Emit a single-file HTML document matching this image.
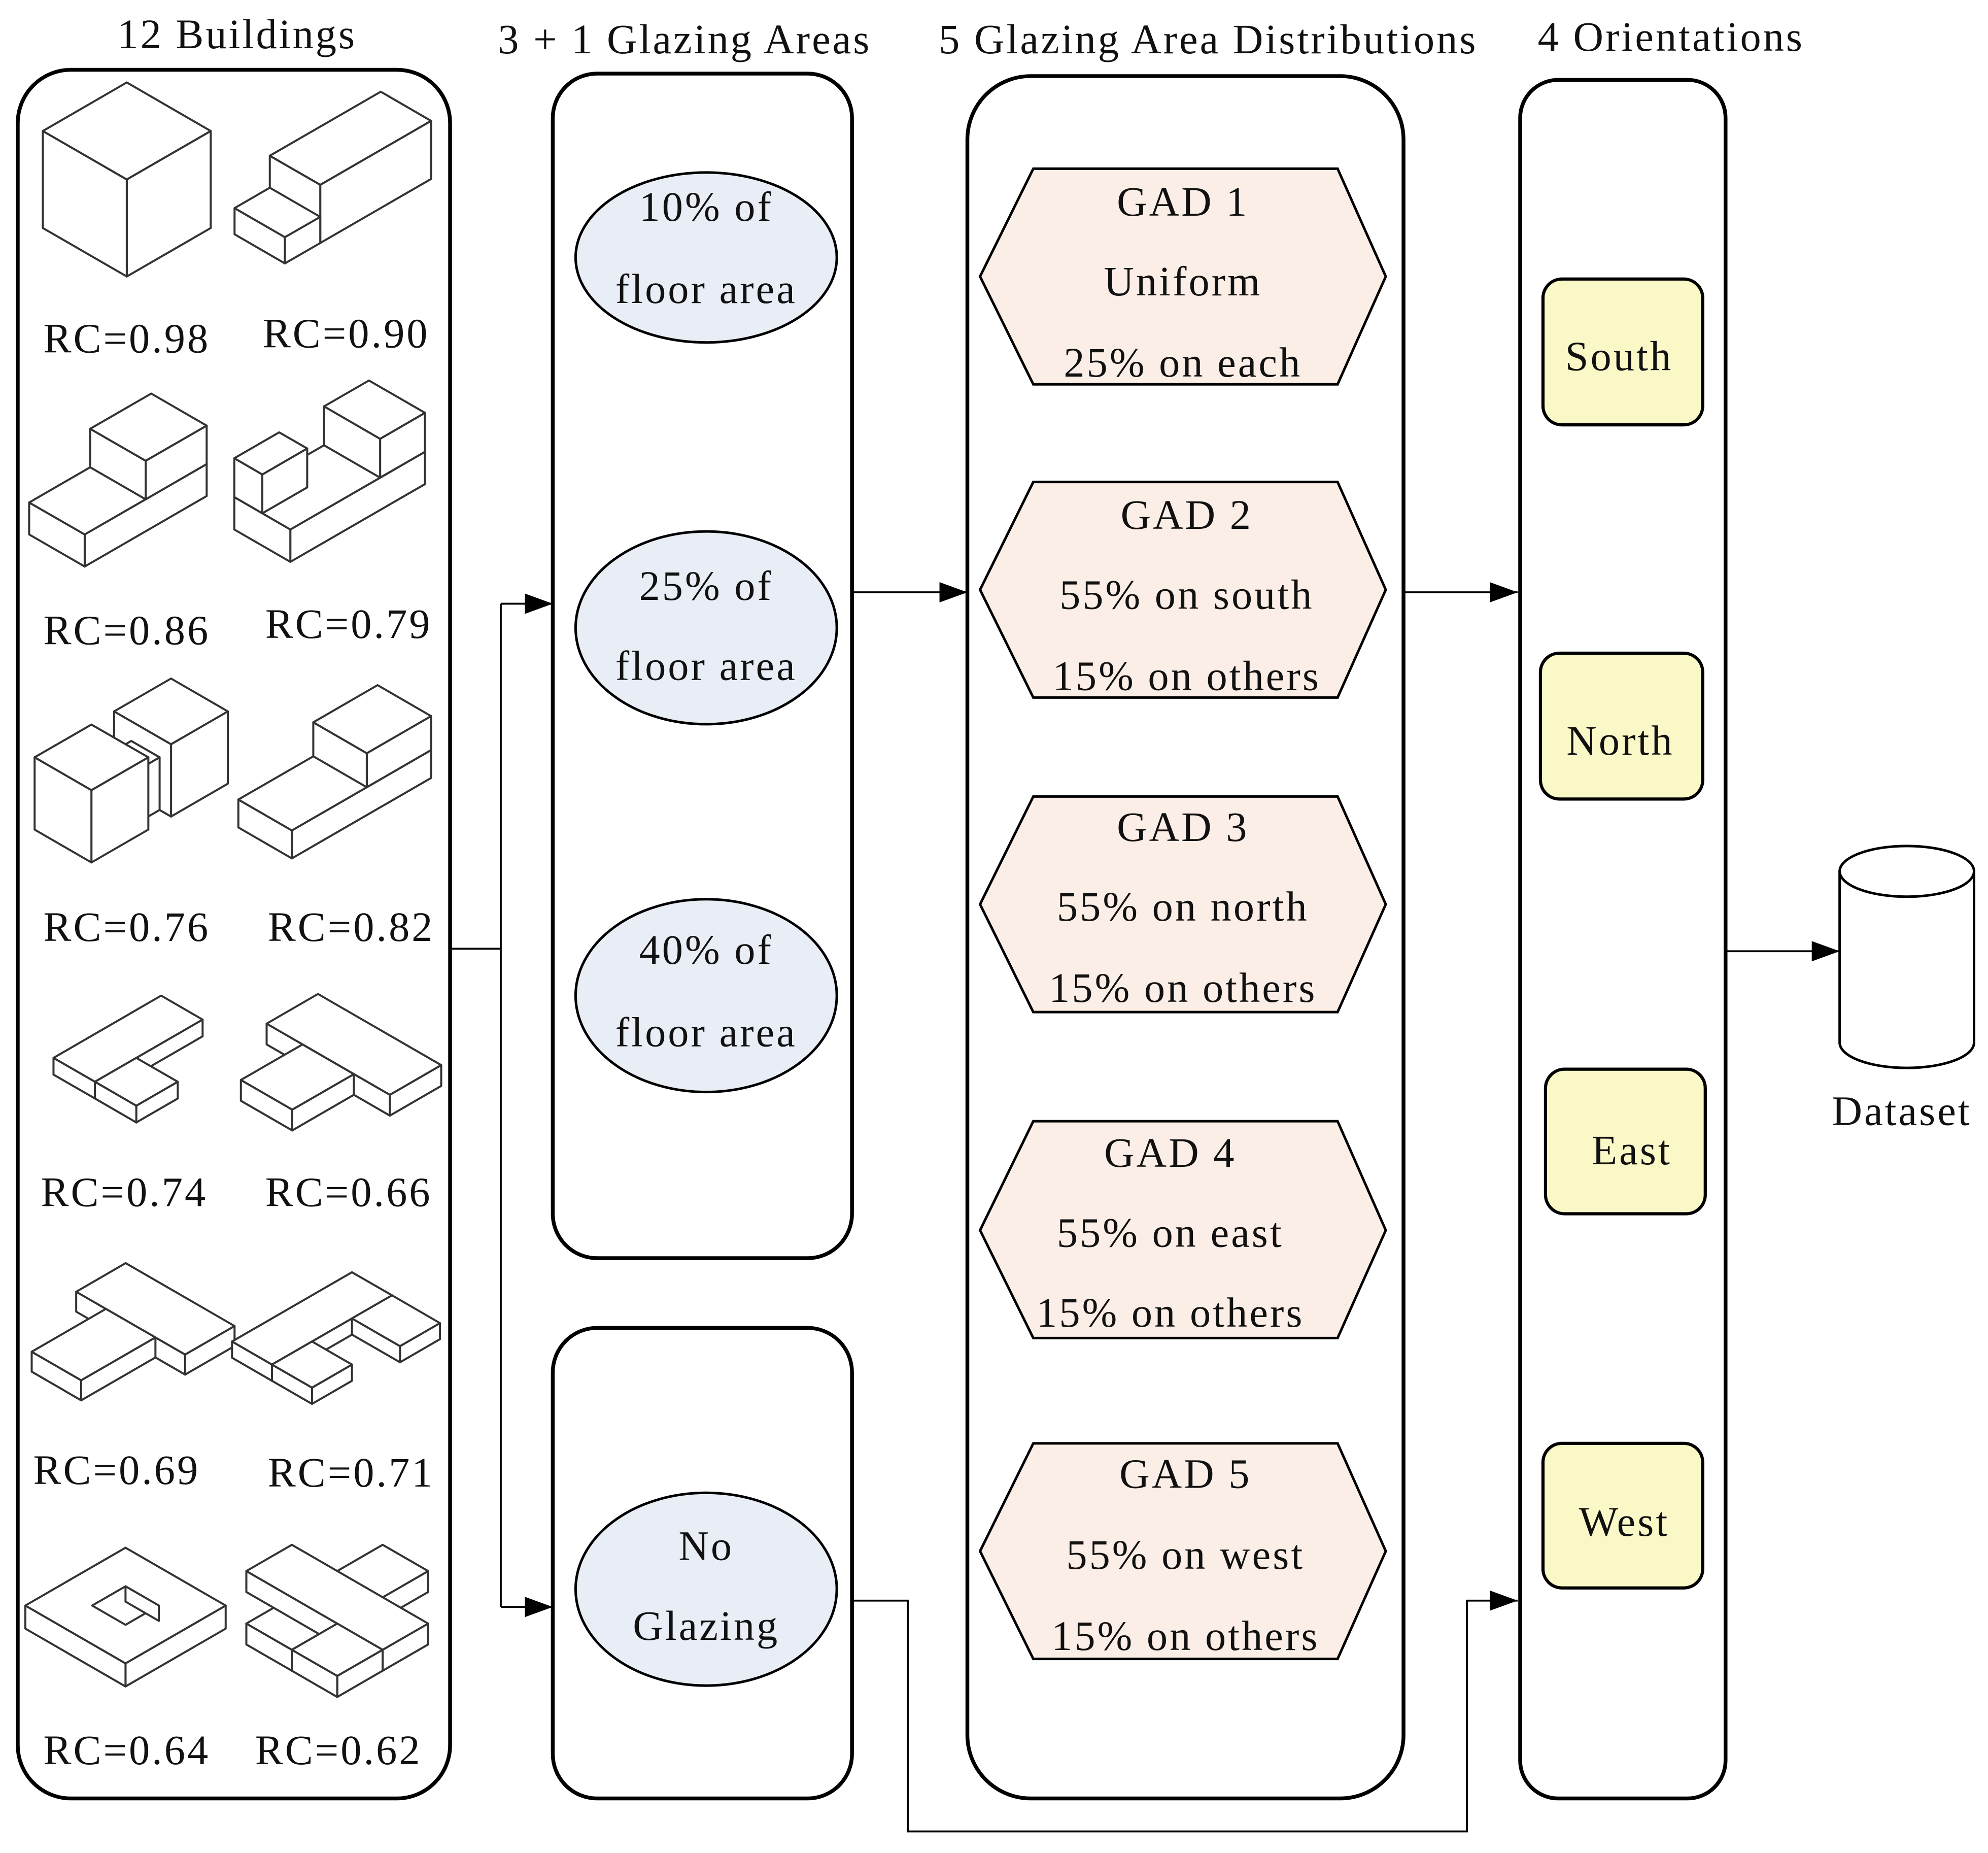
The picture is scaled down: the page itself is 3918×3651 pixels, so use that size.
<!DOCTYPE html>
<html><head><meta charset="utf-8"><style>
html,body{margin:0;padding:0;background:#fff}
svg{display:block}
text{font-family:"Liberation Serif",serif;fill:#111;letter-spacing:1.6px}
</style></head><body>
<svg id="s" xmlns="http://www.w3.org/2000/svg" width="3918" height="3651" viewBox="0 0 1568 1461" preserveAspectRatio="none">
<defs>
<marker id="b" markerWidth="22" markerHeight="16" refX="22" refY="8" orient="auto" markerUnits="userSpaceOnUse"><path d="M0,0 L22,8 L0,16 z" fill="#000"/></marker></defs>
<g font-size="33" text-anchor="middle">
<text x="187" y="38">12 Buildings</text>
<text x="540" y="42">3 + 1 Glazing Areas</text>
<text x="953" y="42">5 Glazing Area Distributions</text>
<text x="1318" y="40">4 Orientations</text>
</g>
<g fill="none" stroke="#000" stroke-width="3">
<rect x="14" y="55" width="341" height="1363" rx="42"/>
<rect x="436" y="58" width="236" height="934" rx="35"/>
<rect x="436" y="1047" width="236" height="371" rx="35"/>
<rect x="763" y="60" width="344" height="1358" rx="50"/>
<rect x="1199" y="63" width="162" height="1355" rx="30"/>
</g>
<g fill="#e9eef6" stroke="#000" stroke-width="2">
<ellipse cx="557" cy="203" rx="103" ry="67"/>
<ellipse cx="557" cy="495" rx="103" ry="76"/>
<ellipse cx="557" cy="785" rx="103" ry="76"/>
<ellipse cx="557" cy="1253" rx="103" ry="76"/>
</g>
<g font-size="33" text-anchor="middle">
<text x="557" y="174">10% of</text><text x="557" y="239">floor area</text>
<text x="557" y="473">25% of</text><text x="557" y="536">floor area</text>
<text x="557" y="760">40% of</text><text x="557" y="825">floor area</text>
<text x="557" y="1230">No</text><text x="557" y="1293">Glazing</text>
</g>
<g fill="#fbeee6" stroke="#000" stroke-width="2">
<polygon points="773,218 815,133 1055,133 1093,218 1055,303 815,303"/>
<polygon points="773,465 815,380 1055,380 1093,465 1055,550 815,550"/>
<polygon points="773,713 815,628 1055,628 1093,713 1055,798 815,798"/>
<polygon points="773,970 815,884 1055,884 1093,970 1055,1055 815,1055"/>
<polygon points="773,1223 815,1138 1055,1138 1093,1223 1055,1308 815,1308"/>
</g>
<g font-size="33" text-anchor="middle">
<text x="933" y="170">GAD 1</text><text x="933" y="233">Uniform</text><text x="933" y="297">25% on each</text>
<text x="936" y="417">GAD 2</text><text x="936" y="480">55% on south</text><text x="936" y="544">15% on others</text>
<text x="933" y="663">GAD 3</text><text x="933" y="726">55% on north</text><text x="933" y="790">15% on others</text>
<text x="923" y="920">GAD 4</text><text x="923" y="983">55% on east</text><text x="923" y="1046">15% on others</text>
<text x="935" y="1173">GAD 5</text><text x="935" y="1237">55% on west</text><text x="935" y="1301">15% on others</text>
</g>
<g fill="#fbf8c8" stroke="#000" stroke-width="2.5">
<rect x="1217" y="220" width="126" height="115" rx="15"/>
<rect x="1215" y="515" width="128" height="115" rx="15"/>
<rect x="1219" y="843" width="126" height="114" rx="15"/>
<rect x="1217" y="1138" width="126" height="114" rx="15"/>
</g>
<g font-size="33" text-anchor="middle">
<text x="1277" y="292">South</text><text x="1278" y="595">North</text><text x="1287" y="918">East</text><text x="1281" y="1211">West</text>
<text x="1500" y="887">Dataset</text>
</g>
<g stroke="#000" stroke-width="2" fill="#fff">
<path d="M1451,687 V822 A53,20 0 0 0 1557,822 V687"/>
<ellipse cx="1504" cy="687" rx="53" ry="20"/>
</g>
<g stroke="#000" stroke-width="1.5" fill="none">
<path d="M355,748 H395"/>
<path d="M395,476 V1267"/>
<path d="M395,476 H436" marker-end="url(#b)"/>
<path d="M395,1267 H436" marker-end="url(#b)"/>
<path d="M672,467 H763" marker-end="url(#b)"/>
<path d="M1107,467 H1197" marker-end="url(#b)"/>
<path d="M672,1262 H716 V1444 H1157 V1262 H1197" marker-end="url(#b)"/>
<path d="M1361,750 H1451" marker-end="url(#b)"/>
</g>
<g id="bld" fill="#fff" stroke="#333" stroke-width="1.6" stroke-linejoin="round"></g>
<g font-size="33" text-anchor="middle">
<text x="100" y="278">RC=0.98</text><text x="273" y="274">RC=0.90</text>
<text x="100" y="508">RC=0.86</text><text x="275" y="503">RC=0.79</text>
<text x="100" y="742">RC=0.76</text><text x="277" y="742">RC=0.82</text>
<text x="98" y="951">RC=0.74</text><text x="275" y="951">RC=0.66</text>
<text x="92" y="1170">RC=0.69</text><text x="277" y="1172">RC=0.71</text>
<text x="100" y="1391">RC=0.64</text><text x="267" y="1391">RC=0.62</text>
</g>
</svg>
<script>
(function(){
var g=document.getElementById('bld');var NS='http://www.w3.org/2000/svg';
var cells=[
[[33,65,167,218],[[0,0,0,1,1,1]]],
[[185,65,340,215],[[0,0,0,1,2.2,1],[0,2.2,0,1,0.7,0.45]]],
[[23,310,163,447],[[0,0,0,1,2.2,0.5],[0,0,0.5,1,1.1,0.6]]],
[[180,300,340,443],[[0,0,0,1,2.4,0.5],[0,0,0.5,1,0.8,0.6],[0,1.6,0.5,0.5,0.8,0.6]]],
[[25,535,182,680],[[0,0,0,1,1,1.1],[0.3,1,0,0.5,0.4,0.8],[0,1.4,0,1,1,1.1]]],
[[188,537,340,680],[[0,0,0,1,2.6,0.45],[0,0,0.45,1,1.2,0.55]]],
[[22,785,180,885],[[0,0,0,1,2.6,0.35],[1,1.6,0,1,1,0.35]]],
[[190,780,348,895],[[0,0,0,2.4,1,0.35],[0.7,1,0,1,1.2,0.35]]],
[[25,995,185,1105],[[0,0,0,2.2,1,0.35],[0.6,1,0,1,1.5,0.35]]],
[[183,995,347,1115],[[0,0,0,1,3,0.35],[1,0,0,1.2,1,0.35],[1,2,0,1,1,0.35]]],
[[20,1210,178,1340],[[0,0,0,3,3,0.6]],1],
[[187,1218,345,1338],[[1,0,0,1,3,0.4],[0,1,0,3,1,0.4],[2,2,0,1,1,0.4]]]
];
function P(x,y,z){return[(x-y)*0.866,(x+y)*0.5-z];}
cells.forEach(function(c){
var r=c[0],bs=c[1].slice().sort(function(a,b){return (a[0]+a[1]+a[2])-(b[0]+b[1]+b[2]);});
var faces=[];
bs.forEach(function(b){var x0=b[0],y0=b[1],z0=b[2],x1=x0+b[3],y1=y0+b[4],z1=z0+b[5];
faces.push([P(x1,y0,z0),P(x1,y1,z0),P(x1,y1,z1),P(x1,y0,z1)]);
faces.push([P(x0,y1,z0),P(x1,y1,z0),P(x1,y1,z1),P(x0,y1,z1)]);
faces.push([P(x0,y0,z1),P(x1,y0,z1),P(x1,y1,z1),P(x0,y1,z1)]);});
if(c[2]){faces.push([P(1,1,0.6),P(2,1,0.6),P(2,2,0.6),P(1,2,0.6)]);faces.push([P(1,1,0.6),P(1,1,0.2),P(2,1,0.2),P(2,1,0.6)]);}
var mnx=1e9,mny=1e9,mxx=-1e9,mxy=-1e9;
faces.forEach(function(f){f.forEach(function(p){mnx=Math.min(mnx,p[0]);mxx=Math.max(mxx,p[0]);mny=Math.min(mny,p[1]);mxy=Math.max(mxy,p[1]);});});
var w=r[2]-r[0],h=r[3]-r[1],s=Math.min(w/(mxx-mnx),h/(mxy-mny));
var ox=r[0]+(w-(mxx-mnx)*s)/2-mnx*s,oy=r[1]+(h-(mxy-mny)*s)/2-mny*s;
faces.forEach(function(f){var p=document.createElementNS(NS,'polygon');
p.setAttribute('points',f.map(function(q){return (ox+q[0]*s).toFixed(1)+','+(oy+q[1]*s).toFixed(1);}).join(' '));g.appendChild(p);});
});
})();
</script>
</body></html>
